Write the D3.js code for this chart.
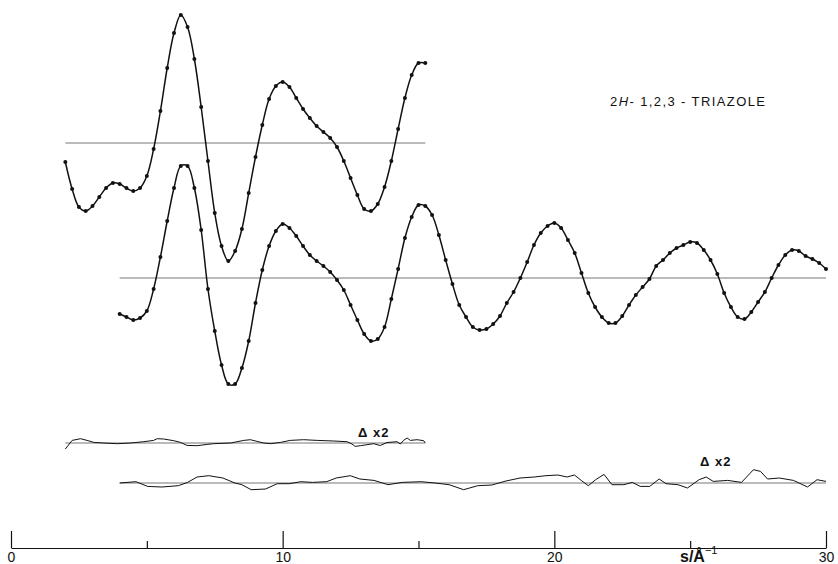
<!DOCTYPE html>
<html lang="en">
<head>
  <meta charset="UTF-8">
  <title>2H-1,2,3-Triazole</title>
  <style>
    body { margin: 0; background: #fff; }
    svg { display: block; font-family: "Liberation Sans", Arial, sans-serif; }
  </style>
</head>
<body>
  <div id="chart"></div>

  <script src="https://d3js.org/d3.v7.min.js"></script>

  <script>
    // molecular intensity, long camera distance (s = 2 .. 15.25, step 0.25)
    var longStart = 2, longStep = 0.25;
    var longValues = [-19, -46, -64, -68, -63, -54, -45, -40, -41, -45, -48, -45,
      -33, -6, 32, 75, 110, 128, 116, 84, 36, -18, -70, -103, -118, -108, -86, -50,
      -14, 18, 44, 57, 61, 56, 45, 34, 25, 17, 11, 5, -4, -18, -35, -52, -66, -68,
      -61, -44, -18, 14, 45, 68, 80, 80];

    // molecular intensity, short camera distance (s = 4 .. 30, step 0.25)
    var shortStart = 4, shortStep = 0.25;
    var shortValues = [-36, -39, -42, -40, -33, -11, 21, 57, 90, 112, 112, 90, 48,
      -11, -53, -87, -106, -106, -90, -63, -25, 8, 32, 47, 54, 50, 42, 32, 23, 17,
      12, 6, -2, -12, -27, -42, -56, -63, -61, -49, -21, 9, 40, 61, 73, 72, 63, 43,
      18, -6, -27, -39, -49, -52, -51, -46, -38, -25, -14, 0, 16, 33, 45, 52, 55,
      50, 38, 25, 5, -15, -29, -39, -45, -45, -38, -27, -17, -9, -1, 12, 18, 25, 30,
      33, 36, 35, 28, 18, 4, -15, -29, -39, -41, -34, -24, -14, 0, 13, 23, 28, 27,
      22, 19, 15, 9];

    // difference curves (exp - theor) x 2
    var longDeltaS = [2.0, 2.25, 2.56, 2.8, 3.05, 3.4, 3.91, 4.4, 4.89, 5.25, 5.38,
      5.62, 5.99, 6.24, 6.48, 6.85, 7.22, 7.46, 8.08, 8.57, 8.81, 9.06, 9.3, 9.55,
      9.92, 10.28, 10.77, 11.27, 11.88, 12.37, 12.55, 12.67, 12.86, 13.35, 13.59,
      13.84, 14.21, 14.33, 14.45, 14.58, 14.7, 14.95, 15.19, 15.25];
    var longDelta = [-6, 2.6, 4.3, 2.6, 0.6, 0, -0.7, 0, 1.3, 2.6, 4.3, 4, 2.3, 0.6,
      -2.4, -2.7, -1.4, -0.7, 0, 2.6, 3.3, 1.6, 0, -0.7, 0.6, 2.6, 3.3, 2.6, 2, 1.3,
      -1, -3.4, -2.7, -0.7, -2.5, 0.5, 1.3, -1, 2.6, 5, 2.6, 3.3, 2.3, 0];

    var shortDeltaS = [4.0, 4.6, 5.03, 5.55, 6.16, 6.5, 6.85, 7.28, 7.8, 8.24, 8.5,
      8.84, 9.37, 9.8, 10.24, 10.67, 11.1, 11.62, 11.97, 12.49, 12.84, 13.36, 13.88,
      14.4, 15.1, 15.61, 16.13, 16.66, 17.18, 17.7, 18.22, 18.74, 19.26, 19.69,
      20.13, 20.47, 20.74, 20.99, 21.25, 21.52, 21.83, 22.12, 22.56, 22.87, 23.16,
      23.51, 23.86, 24.11, 24.55, 24.9, 25.33, 25.59, 25.85, 26.38, 26.89, 27.33,
      27.59, 27.85, 28.28, 28.8, 29.32, 29.67, 30.0];
    var shortDelta = [0, 1.3, -3.4, -4, -2.7, 0.6, 6, 7.3, 5, 0, -1.7, -6.7, -6,
      -0.7, -0.7, 1.3, 0.6, 1.3, 5, 7.3, 4, 2.6, -1.7, 0.6, 1.3, 0, -1.7, -6.7,
      -2.7, -2, 2, 5, 6, 7.3, 8, 6, 8, 2.6, -2.7, 3.3, 8.6, -1.7, -1.7, 0.6, -3.4,
      -3.4, 4, -0.7, -1.7, -5, 3.3, 6, 1.6, 2.6, 0.6, 13.3, 11.6, 4, 5, 2.6, -4,
      3.3, 1.6];

    var axisTicks = [0, 10, 20, 30];
    var minorTicks = [5, 15, 25];

    var width = 838, height = 564;

    var svg = d3.select("#chart")
      .append("svg")
      .attr("width", width)
      .attr("height", height);

    var x = d3.scaleLinear().domain([0, 30]).range([11, 826]);

    // each curve sits on its own zero line
    function band(zero) {
      return d3.scaleLinear().domain([-100, 100]).range([zero + 100, zero - 100]);
    }
    var yLong = band(143), yShort = band(278), yDLong = band(443), yDShort = band(483);

    function toPoints(start, step, vals) {
      return vals.map(function(v, i) { return {s: start + i * step, v: v}; });
    }
    function pairs(ss, vals) {
      return vals.map(function(v, i) { return {s: ss[i], v: v}; });
    }

    var longPts = toPoints(longStart, longStep, longValues);
    var shortPts = toPoints(shortStart, shortStep, shortValues);
    var dLongPts = pairs(longDeltaS, longDelta);
    var dShortPts = pairs(shortDeltaS, shortDelta);

    function zeroLine(s0, s1, y) {
      svg.append("line")
        .attr("x1", x(s0)).attr("x2", x(s1))
        .attr("y1", y(0)).attr("y2", y(0))
        .attr("stroke", "#777")
        .attr("stroke-width", 1);
    }

    function curve(pts, y, w, smooth) {
      var line = d3.line()
        .x(function(d) { return x(d.s); })
        .y(function(d) { return y(d.v); });
      if (smooth) line.curve(d3.curveCatmullRom);
      svg.append("path")
        .datum(pts)
        .attr("fill", "none")
        .attr("stroke", "#111")
        .attr("stroke-width", w)
        .attr("d", line);
    }

    function dots(pts, y) {
      svg.append("g").selectAll("circle")
        .data(pts)
        .enter()
        .append("circle")
        .attr("cx", function(d) { return x(d.s); })
        .attr("cy", function(d) { return y(d.v); })
        .attr("r", 2)
        .attr("fill", "#111");
    }

    // zero lines
    zeroLine(2, 15.25, yLong);
    zeroLine(4, 30, yShort);
    zeroLine(2, 15.25, yDLong);
    zeroLine(4, 30, yDShort);

    // intensity curves with points
    curve(longPts, yLong, 1.5, true);
    dots(longPts, yLong);
    curve(shortPts, yShort, 1.5, true);
    dots(shortPts, yShort);

    // difference curves
    curve(dLongPts, yDLong, 1, false);
    curve(dShortPts, yDShort, 1, false);

    // bottom s axis, ticks pointing up
    var axisY = 548;
    var major = svg.append("g")
      .attr("transform", "translate(0," + axisY + ")")
      .call(d3.axisBottom(x).tickValues(axisTicks).tickSizeInner(-17).tickSizeOuter(0));
    major.select(".domain").attr("stroke", "#111").attr("stroke-width", 1.2);
    major.selectAll(".tick line").attr("stroke", "#111").attr("stroke-width", 1.2);
    major.selectAll(".tick text")
      .attr("y", 0)
      .attr("dy", 14)
      .attr("font-size", 14)
      .attr("font-family", "Liberation Sans, Arial, sans-serif")
      .attr("fill", "#111");

    var minor = svg.append("g")
      .attr("transform", "translate(0," + axisY + ")")
      .call(d3.axisBottom(x).tickValues(minorTicks).tickSizeInner(-7).tickSizeOuter(0).tickFormat(""));
    minor.select(".domain").remove();
    minor.selectAll(".tick line").attr("stroke", "#111").attr("stroke-width", 1.2);

    // axis title
    var lab = svg.append("text")
      .attr("x", 680)
      .attr("y", 562)
      .attr("font-size", 16)
      .attr("font-weight", "bold")
      .attr("fill", "#111");
    lab.append("tspan").text("s/Å");
    lab.append("tspan").attr("dy", -8).attr("font-size", 11).attr("font-weight", "normal").text("−1");

    // molecule name
    var title = svg.append("text")
      .attr("x", 610)
      .attr("y", 106)
      .attr("font-size", 13)
      .attr("letter-spacing", 1.4)
      .attr("fill", "#111");
    title.append("tspan").text("2");
    title.append("tspan").attr("font-style", "italic").text("H");
    title.append("tspan").text("- 1,2,3 - TRIAZOLE");

    // difference labels
    svg.append("text")
      .attr("x", 358).attr("y", 437)
      .attr("font-size", 13).attr("font-weight", "bold")
      .attr("letter-spacing", 1).attr("fill", "#111")
      .text("Δ x2");
    svg.append("text")
      .attr("x", 700).attr("y", 466)
      .attr("font-size", 13).attr("font-weight", "bold")
      .attr("letter-spacing", 1).attr("fill", "#111")
      .text("Δ x2");
  </script>
</body>
</html>
